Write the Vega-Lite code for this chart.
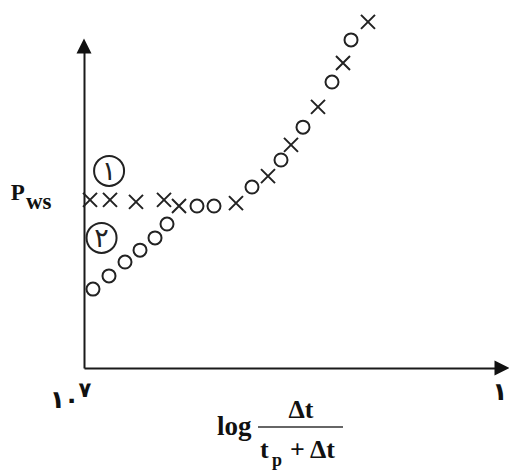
{
  "$schema": "https://vega.github.io/schema/vega-lite/v6.json",
  "width": 418,
  "height": 322,
  "autosize": {"type": "none"},
  "padding": {"left": 84, "top": 46, "right": 7, "bottom": 104},
  "background": "white",
  "config": {
    "view": {"stroke": null},
    "axis": {"ticks": false, "labels": false, "grid": false, "domainColor": "#1a1a1a", "domainWidth": 2}
  },
  "data": {"values": [{}]},
  "datasets": {
    "points": [
      {"series": "1", "x": 1.44, "y": 52.2},
      {"series": "1", "x": 6.22, "y": 52.2},
      {"series": "1", "x": 12.44, "y": 51.6},
      {"series": "1", "x": 19.14, "y": 52.2},
      {"series": "1", "x": 22.73, "y": 50.3},
      {"series": "1", "x": 36.36, "y": 51.2},
      {"series": "1", "x": 44.02, "y": 59.6},
      {"series": "1", "x": 49.52, "y": 69.3},
      {"series": "1", "x": 55.98, "y": 81.1},
      {"series": "1", "x": 61.96, "y": 94.7},
      {"series": "1", "x": 67.94, "y": 107.5},
      {"series": "2", "x": 2.15, "y": 24.5},
      {"series": "2", "x": 5.98, "y": 28.6},
      {"series": "2", "x": 9.81, "y": 32.9},
      {"series": "2", "x": 13.4, "y": 36.6},
      {"series": "2", "x": 16.99, "y": 40.4},
      {"series": "2", "x": 19.86, "y": 44.7},
      {"series": "2", "x": 27.03, "y": 50.3},
      {"series": "2", "x": 31.1, "y": 50.3},
      {"series": "2", "x": 40.19, "y": 56.2},
      {"series": "2", "x": 47.13, "y": 64.6},
      {"series": "2", "x": 52.39, "y": 74.8},
      {"series": "2", "x": 59.33, "y": 88.8},
      {"series": "2", "x": 63.88, "y": 101.9}
    ],
    "badges": [
      {"label": "۱", "x": 6.0, "y": 61.2},
      {"label": "۲", "x": 4.2, "y": 40.4}
    ],
    "ticklabels": [
      {"label": "۱", "x": -6.34, "y": -12.42},
      {"label": "۰", "x": -2.99, "y": -12.42}
    ]
  },
  "layer": [
    {
      "data": {"name": "points"},
      "mark": {"type": "point", "filled": false, "strokeWidth": 2, "color": "#222", "opacity": 1},
      "encoding": {
        "x": {"field": "x", "type": "quantitative", "scale": {"domain": [0, 100], "nice": false, "zero": false}, "axis": {"title": null}},
        "y": {"field": "y", "type": "quantitative", "scale": {"domain": [0, 100], "nice": false, "zero": false}, "axis": {"title": null}},
        "shape": {"field": "series", "type": "nominal", "scale": {"domain": ["1", "2"], "range": ["M-1,-1L1,1M-1,1L1,-1", "circle"]}, "legend": null},
        "size": {"field": "series", "type": "nominal", "scale": {"domain": ["1", "2"], "range": [196, 169]}, "legend": null}
      }
    },
    {
      "data": {"name": "badges"},
      "mark": {"type": "point", "shape": "circle", "filled": false, "size": 900, "strokeWidth": 2, "color": "#222", "opacity": 1},
      "encoding": {
        "x": {"field": "x", "type": "quantitative", "axis": {"title": null}},
        "y": {"field": "y", "type": "quantitative", "axis": {"title": null}}
      }
    },
    {
      "data": {"name": "badges"},
      "mark": {"type": "text", "font": "DejaVu Sans", "fontSize": 27, "fontWeight": "normal", "align": "center", "baseline": "middle", "color": "#222", "dy": 1},
      "encoding": {
        "x": {"field": "x", "type": "quantitative", "axis": {"title": null}},
        "y": {"field": "y", "type": "quantitative", "axis": {"title": null}},
        "text": {"field": "label"}
      }
    },
    {
      "data": {"name": "ticklabels"},
      "mark": {"type": "text", "font": "DejaVu Sans", "fontSize": 25, "fontWeight": "bold", "align": "center", "baseline": "alphabetic", "color": "#111"},
      "encoding": {
        "x": {"field": "x", "type": "quantitative", "axis": {"title": null}},
        "y": {"field": "y", "type": "quantitative", "axis": {"title": null}},
        "text": {"field": "label"}
      }
    },
    {
      "mark": {"type": "point", "shape": "M0,-1L1,1L-1,1Z", "filled": true, "size": 225, "color": "#111", "opacity": 1},
      "encoding": {"x": {"datum": 0}, "y": {"datum": 100}}
    },
    {
      "mark": {"type": "point", "shape": "M1,0L-1,-1L-1,1Z", "filled": true, "size": 225, "color": "#111", "opacity": 1},
      "encoding": {"x": {"datum": 100}, "y": {"datum": 0}}
    },
    {
      "mark": {"type": "text", "text": "P", "font": "Liberation Serif", "fontSize": 23, "fontWeight": "bold", "align": "left", "baseline": "alphabetic", "color": "#111"},
      "encoding": {"x": {"datum": -17.5}, "y": {"datum": 52.17}}
    },
    {
      "mark": {"type": "text", "text": "ws", "font": "Liberation Serif", "fontSize": 23, "fontWeight": "bold", "align": "left", "baseline": "alphabetic", "color": "#111"},
      "encoding": {"x": {"datum": -13.9}, "y": {"datum": 49.4}}
    },
    {
      "mark": {"type": "text", "text": "۷", "font": "DejaVu Sans", "fontSize": 21, "fontWeight": "bold", "align": "center", "baseline": "alphabetic", "color": "#111"},
      "encoding": {"x": {"datum": 0.24}, "y": {"datum": -9.0}}
    },
    {
      "mark": {"type": "text", "text": "۱", "font": "DejaVu Sans", "fontSize": 25, "fontWeight": "bold", "align": "right", "baseline": "alphabetic", "color": "#111"},
      "encoding": {"x": {"datum": 101.3}, "y": {"datum": -9.94}}
    },
    {
      "mark": {"type": "text", "text": "log", "font": "Liberation Serif", "fontSize": 27, "fontWeight": "bold", "align": "left", "baseline": "alphabetic", "color": "#111"},
      "encoding": {"x": {"datum": 31.82}, "y": {"datum": -20.81}}
    },
    {
      "mark": {"type": "text", "text": "Δt", "font": "Liberation Serif", "fontSize": 26, "fontWeight": "bold", "align": "center", "baseline": "alphabetic", "color": "#111"},
      "encoding": {"x": {"datum": 51.91}, "y": {"datum": -15.53}}
    },
    {
      "mark": {"type": "rule", "strokeWidth": 1.6, "color": "#333"},
      "encoding": {"x": {"datum": 41.63}, "x2": {"datum": 61.96}, "y": {"datum": -18.32}}
    },
    {
      "mark": {"type": "text", "text": "t", "font": "Liberation Serif", "fontSize": 26, "fontWeight": "bold", "align": "left", "baseline": "alphabetic", "color": "#111"},
      "encoding": {"x": {"datum": 42.11}, "y": {"datum": -27.95}}
    },
    {
      "mark": {"type": "text", "text": "p", "font": "Liberation Serif", "fontSize": 18, "fontWeight": "bold", "align": "left", "baseline": "alphabetic", "color": "#111"},
      "encoding": {"x": {"datum": 44.98}, "y": {"datum": -30.43}}
    },
    {
      "mark": {"type": "text", "text": "+ Δt", "font": "Liberation Serif", "fontSize": 26, "fontWeight": "bold", "align": "left", "baseline": "alphabetic", "color": "#111"},
      "encoding": {"x": {"datum": 49.3}, "y": {"datum": -27.95}}
    }
  ]
}
